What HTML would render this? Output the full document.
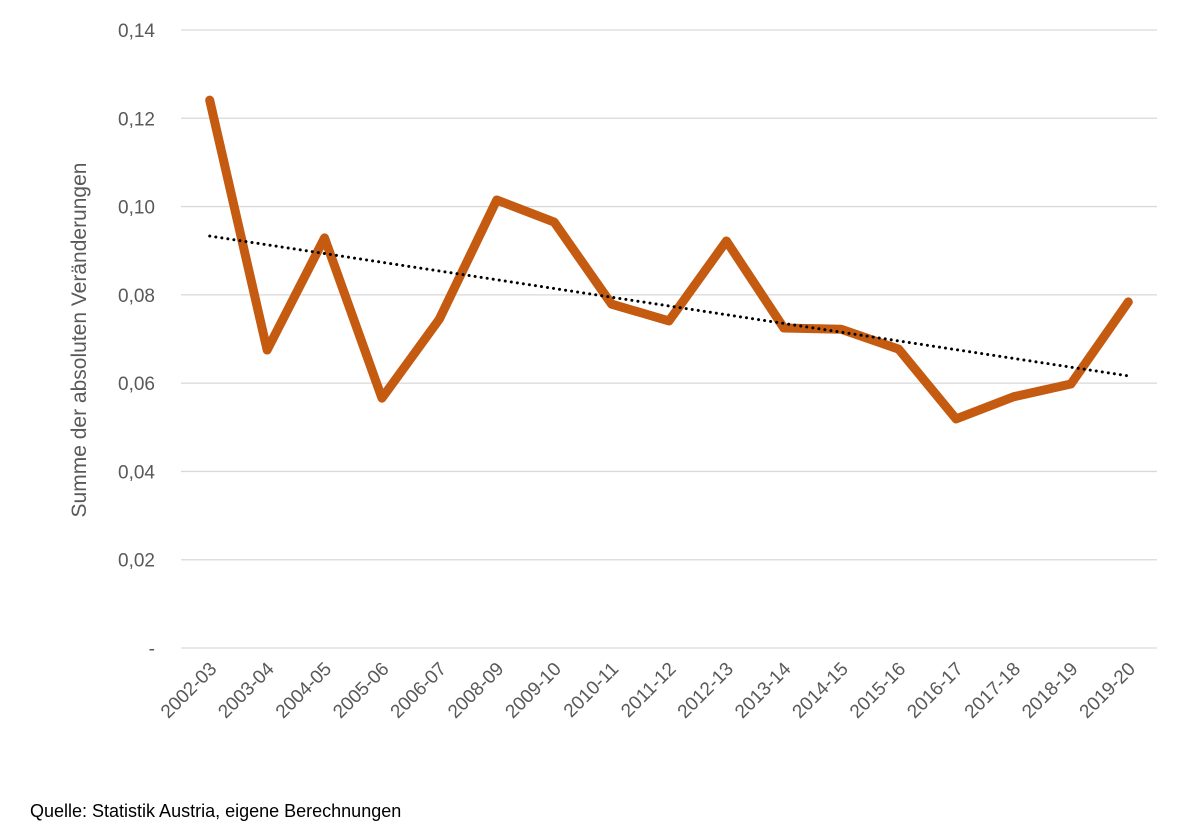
<!DOCTYPE html>
<html><head><meta charset="utf-8"><style>
body{margin:0;background:#fff;width:1200px;height:830px;overflow:hidden;font-family:"Liberation Sans",sans-serif}
svg text{font-family:"Liberation Sans",sans-serif}
</style></head><body>
<svg id="chart" width="1200" height="830" xmlns="http://www.w3.org/2000/svg"></svg>
<script>
const categories=["2002-03","2003-04","2004-05","2005-06","2006-07","2008-09","2009-10","2010-11","2011-12","2012-13","2013-14","2014-15","2015-16","2016-17","2017-18","2018-19","2019-20"];
const values=[0.1241,0.0675,0.0929,0.0566,0.0745,0.1015,0.0965,0.0779,0.0741,0.0922,0.0725,0.0722,0.0677,0.0519,0.0569,0.0598,0.0784];
const yTicks=[0,0.02,0.04,0.06,0.08,0.10,0.12,0.14];
const yTickLabels=["-","0,02","0,04","0,06","0,08","0,10","0,12","0,14"];
const NS="http://www.w3.org/2000/svg";
const svg=document.getElementById('chart');
const L=181,R=1157,T=30,B=648,yMax=0.14;
const step=(R-L)/categories.length;
const x=i=>L+step*(i+0.5);
const y=v=>B-(v/yMax)*(B-T);
function mk(t,a){const e=document.createElementNS(NS,t);for(const k in a)e.setAttribute(k,a[k]);svg.appendChild(e);return e;}
yTicks.forEach((v,i)=>{
 const g=mk('line',{x1:L,x2:R,y1:y(v),y2:y(v),stroke:'#d9d9d9','stroke-width':1.3});
 
 
 const t=mk('text',{x:155,y:y(v)+7,'text-anchor':'end','font-size':19,fill:'#595959'});
 t.textContent=yTickLabels[i];
 
 
});
categories.forEach((c,i)=>{
 const t=mk('text',{x:0,y:0,'text-anchor':'end','font-size':19,fill:'#595959',transform:`translate(${x(i)+8},${B+22}) rotate(-45)`});
 t.textContent=c;
 
 
});
const line=mk('polyline',{points:values.map((v,i)=>x(i)+','+y(v)).join(' '),fill:'none',stroke:'#C55A11','stroke-width':9,'stroke-linejoin':'round','stroke-linecap':'round'});


// linear trend
const n=values.length;let sx=0,sy=0,sxy=0,sxx=0;
values.forEach((v,i)=>{sx+=i;sy+=v;sxy+=i*v;sxx+=i*i;});
const b=(n*sxy-sx*sy)/(n*sxx-sx*sx),a=(sy-b*sx)/n;
const tr=mk('line',{x1:x(0),y1:y(a),x2:x(n-1),y2:y(a+b*(n-1)),stroke:'#000','stroke-width':3,'stroke-dasharray':'0.1 6','stroke-linecap':'round'});


const yt=mk('text',{x:0,y:0,'text-anchor':'middle','font-size':21,fill:'#595959',transform:'translate(86,340) rotate(-90)'});
yt.textContent='Summe der absoluten Veränderungen';


const src=mk('text',{x:30,y:817,'font-size':18,fill:'#000'});
src.textContent='Quelle: Statistik Austria, eigene Berechnungen';


</script>
</body></html>
